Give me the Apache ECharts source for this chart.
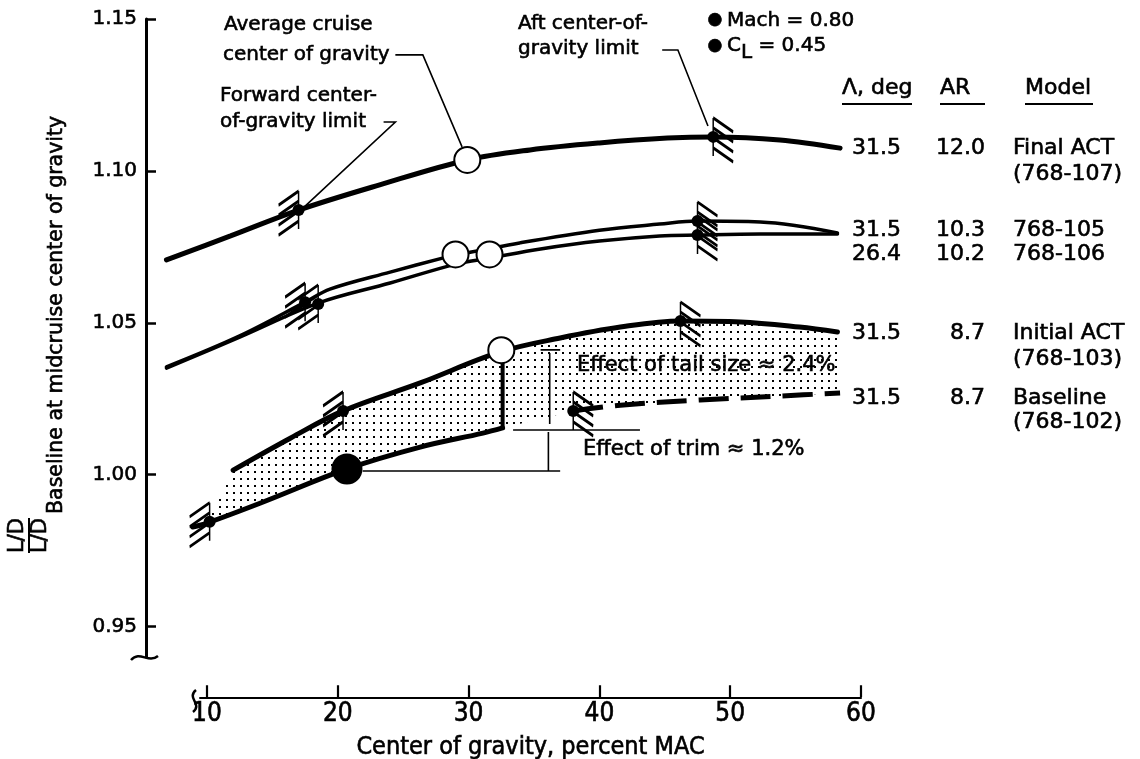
<!DOCTYPE html>
<html><head><meta charset="utf-8">
<script src="https://cdn.jsdelivr.net/npm/echarts@6/dist/echarts.min.js"></script>
<style>html,body{margin:0;padding:0;background:#fff}#c{width:1140px;height:759px}</style>
</head><body><div id="c"></div>
<script>
// ---- data (x = c.g. percent MAC, y = L/D ratio) ----
const xTicks = [10, 20, 30, 40, 50, 60];
const yTicks = [0.95, 1.00, 1.05, 1.10, 1.15];
const finalACT = [[6.9,1.0707],[11.8,1.0786],[17.0,1.0871],[23.2,1.0954],[29.9,1.1036],[34.7,1.1069],[40.0,1.1092],[45.2,1.1108],[48.7,1.1112],[53.8,1.1102],[58.4,1.1075]];
const model105 = [[6.9,1.0355],[12.5,1.0457],[17.5,1.0568],[19.4,1.0611],[24.0,1.0667],[28.0,1.0713],[29.0,1.0723],[33.9,1.0763],[40.0,1.0805],[44.6,1.0825],[47.5,1.0835],[52.3,1.0832],[58.2,1.0796]];
const model106 = [[6.9,1.0351],[12.5,1.0453],[18.5,1.0565],[24.0,1.0631],[29.1,1.0694],[31.6,1.0713],[35.5,1.0743],[40.0,1.0769],[44.6,1.0786],[47.5,1.0789],[52.3,1.0792],[58.2,1.0792]];
const initialACT = [[12.0,1.0015],[16.4,1.0121],[20.4,1.0210],[26.3,1.0302],[32.4,1.0404],[37.0,1.0450],[41.6,1.0486],[46.2,1.0506],[50.8,1.0503],[55.3,1.0486],[58.2,1.0470]];
const baselineSolid = [[8.9,0.9828],[10.0,0.9841],[14.1,0.9907],[20.7,1.0019],[26.3,1.0091],[31.1,1.0137],[32.6,1.0154]];
const baselineDashed = [[38.0,1.0210],[41.6,1.0229],[47.7,1.0246],[53.8,1.0259],[58.4,1.0269]];
const avgCruise = [[29.9,1.1036],[29.0,1.0725],[31.6,1.0725],[32.5,1.0410]];
const baselineAvg = [[20.7,1.0019]];
const fwdLimit = [[17.0,1.0871],[17.5,1.0568],[18.5,1.0562],[20.4,1.0210],[10.2,0.9845]];
const aftLimit = [[48.7,1.1112],[47.5,1.0835],[47.5,1.0789],[46.2,1.0506],[38.0,1.0210]];
// annotation leaders (data coords)
const leaderAvg = [[24.4,1.1382],[26.5,1.1382],[29.5,1.1079]];
const leaderFwd = [[23.5,1.1161],[24.4,1.1161],[17.5,1.0884]];
const leaderAft = [[44.8,1.1398],[46.0,1.1398],[48.3,1.1148]];
const tailDim = [[36.2,1.0401],[36.2,1.0167]];
const tailTop = [[35.5,1.0411],[37.0,1.0411]];
const trimTop = [[33.4,1.0147],[43.1,1.0147]];
const trimDim = [[36.1,1.0141],[36.1,1.0012]];
const trimBottom = [[21.9,1.0012],[37.0,1.0012]];
const tailRise = [[32.6,1.0154],[32.6,1.0372]];

const F = 'DejaVu Sans';
const NARROW = '"Liberation Sans Narrow","DejaVu Sans Condensed",sans-serif';
const W = 0.6; // slight text stroke to mimic the heavy printed type

// dot pattern for shaded band
const pc = document.createElement('canvas');
pc.width = 7; pc.height = 7;
const pctx = pc.getContext('2d');
pctx.fillStyle = '#000';
pctx.fillRect(2, 2, 2, 2);
const dotPattern = { image: pc, repeat: 'repeat' };

const fwdHatch = 'path://M20,0 L20,38 M20,0 L0,14 M20,10 L0,24 M20,20 L0,34 M20,30 L0,44';
const aftHatch = 'path://M0,0 L0,38 M0,0 L20,14 M0,10 L20,24 M0,20 L20,34 M0,30 L20,44';

function curve(data, w, dash) {
  return { type: 'line', data: data, showSymbol: false, smooth: 0.35, silent: true,
    lineStyle: { color: '#000', width: w, type: dash || 'solid', cap: dash ? 'butt' : 'round', opacity: 1 }, z: 3 };
}
function leader(list, sym, w) {
  return { type: 'lines', coordinateSystem: 'cartesian2d', polyline: true, silent: true,
    symbol: sym, symbolSize: 9, z: 4,
    lineStyle: { color: '#000', width: w || 1.6, opacity: 1 },
    data: list.map(c => ({ coords: c })) };
}

function txt(t, x, y, size, align, extra) {
  return Object.assign({ type: 'text', x: x, y: y, silent: true,
    style: { text: t, fill: '#000', stroke: '#000', lineWidth: W, font: (size || 20) + 'px "' + F + '"', align: align || 'left', verticalAlign: 'middle' } }, extra || {});
}
function hline(x1, x2, y, w) {
  return { type: 'line', silent: true, shape: { x1: x1, y1: y, x2: x2, y2: y }, style: { stroke: '#000', lineWidth: w || 1.5 } };
}

const graphics = [
  txt('Average cruise', 224, 25), txt('center of gravity', 223, 55),
  txt('Forward center-', 220, 96), txt('of-gravity limit', 220, 122),
  txt('Aft center-of-', 518, 24), txt('gravity limit', 518, 49),
  txt('●', 715, 20, 17, 'center'), txt('Mach = 0.80', 727, 21, 20),
  txt('●', 715, 46, 17, 'center'),
  { type: 'text', x: 727, y: 46, silent: true, style: { text: 'C{s|L} = 0.45', fill: '#000', stroke: '#000', lineWidth: W, font: '20px "' + F + '"', verticalAlign: 'middle',
      rich: { s: { fontSize: 20, fontFamily: F, verticalAlign: 'top', padding: [14, 0, 0, 0] } } } },
  txt('Λ, deg', 842, 88, 22), hline(842, 912, 104, 2),
  txt('AR', 940, 88, 22), hline(940, 985, 104, 2),
  txt('Model', 1025, 88, 22), hline(1025, 1093, 104, 2),
  txt('31.5', 852, 148, 22), txt('12.0', 985, 148, 22, 'right'), txt('Final ACT', 1013, 148, 22), txt('(768-107)', 1013, 174, 22),
  txt('31.5', 852, 230, 22), txt('10.3', 985, 230, 22, 'right'), txt('768-105', 1013, 230, 22),
  txt('26.4', 852, 254, 22), txt('10.2', 985, 254, 22, 'right'), txt('768-106', 1013, 254, 22),
  txt('31.5', 852, 333, 22), txt('8.7', 985, 333, 22, 'right'), txt('Initial ACT', 1013, 333, 22), txt('(768-103)', 1013, 359, 22),
  txt('31.5', 852, 398, 22), txt('8.7', 985, 398, 22, 'right'), txt('Baseline', 1013, 398, 22), txt('(768-102)', 1013, 422, 22),
  txt('Effect of tail size ≈ 2.4%', 577, 366, 21),
  txt('Effect of trim ≈ 1.2%', 583, 450, 21),
  // y axis title (rotated)
  { type: 'group', x: 0, y: 553, rotation: Math.PI / 2, silent: true, children: [
      txt('L/D', 0, 18, 21),
      { type: 'line', shape: { x1: 0, y1: 29, x2: 35, y2: 29 }, style: { stroke: '#000', lineWidth: 2 } },
      txt('L/D', 0, 41, 21),
      txt('Baseline at midcruise center of gravity', 39, 57, 20.5)
  ] },
  // axis break marks
  { type: 'bezierCurve', silent: true, shape: { x1: 131, y1: 660, x2: 158, y2: 656, cpx1: 140, cpy1: 650, cpx2: 148, cpy2: 664 }, style: { stroke: '#000', lineWidth: 2.5, fill: 'none' } },
  { type: 'bezierCurve', silent: true, shape: { x1: 196, y1: 690, x2: 193, y2: 712, cpx1: 186, cpy1: 698, cpx2: 203, cpy2: 704 }, style: { stroke: '#000', lineWidth: 2.5, fill: 'none' } }
];

const chart = echarts.init(document.getElementById('c'), null, { renderer: 'canvas' });
chart.setOption({
  animation: false,
  backgroundColor: '#fff',
  textStyle: { fontFamily: F, color: '#000' },
  grid: [
    { left: 146, right: 279, top: 19, bottom: 102, containLabel: false },
    { left: 200, right: 279, top: 697, height: 1, containLabel: false }
  ],
  xAxis: [
    { type: 'value', gridIndex: 0, min: 5.336, max: 60, show: false },
    { type: 'value', gridIndex: 1, min: 9.465, max: 60, position: 'bottom',
      axisLine: { show: true, lineStyle: { color: '#000', width: 2 } },
      axisTick: { show: true, inside: true, length: 12, lineStyle: { color: '#000', width: 2.2 }, customValues: xTicks },
      axisLabel: { show: true, customValues: xTicks, color: '#000', fontFamily: NARROW, fontSize: 26, margin: 4,
        textBorderColor: '#000', textBorderWidth: W },
      splitLine: { show: false },
      name: 'Center of gravity, percent MAC', nameLocation: 'middle', nameGap: 38,
      nameTextStyle: { fontFamily: NARROW, fontSize: 25, color: '#000', textBorderColor: '#000', textBorderWidth: W } }
  ],
  yAxis: [
    { type: 'value', gridIndex: 0, min: 0.94, max: 1.15,
      axisLine: { show: true, lineStyle: { color: '#000', width: 3 } },
      axisTick: { show: true, inside: true, length: 10, lineStyle: { color: '#000', width: 2.5 }, customValues: yTicks },
      axisLabel: { show: true, customValues: yTicks, color: '#000', fontFamily: F, fontSize: 20, margin: 9,
        textBorderColor: '#000', textBorderWidth: W, formatter: v => v.toFixed(2) },
      splitLine: { show: false } },
    { type: 'value', gridIndex: 1, min: 0, max: 1, show: false }
  ],
  graphic: graphics,
  series: [
    { type: 'custom', silent: true, z: 1, data: [[0, 0]],
      renderItem: function (params, api) {
        const pts = initialACT.map(p => api.coord(p))
          .concat(baselineDashed.slice().reverse().map(p => api.coord(p)))
          .concat(baselineSolid.filter(p => p[0] >= 10).reverse().map(p => api.coord(p)));
        return { type: 'polygon', shape: { points: pts }, style: { fill: dotPattern, stroke: 'none' } };
      } },
    curve(finalACT, 5),
    curve(model105, 3.5),
    curve(model106, 3.5),
    curve(initialACT, 5),
    curve(baselineSolid, 5),
    curve(baselineDashed, 5, [30, 12]),
    leader([leaderAvg, leaderFwd, leaderAft], ['none', 'arrow'], 1.6),
    leader([tailDim, trimDim], ['arrow', 'arrow'], 1.6),
    leader([tailTop, trimTop, trimBottom], ['none', 'none'], 1.6),
    leader([tailRise], ['none', 'arrow'], 4),
    { type: 'scatter', data: fwdLimit, symbol: fwdHatch, symbolSize: [20, 44], symbolOffset: [-10, 3], silent: true, z: 5,
      itemStyle: { color: 'rgba(0,0,0,0)', borderColor: '#000', borderWidth: 2.2, opacity: 1 } },
    { type: 'scatter', data: aftLimit, symbol: aftHatch, symbolSize: [20, 44], symbolOffset: [10, 3], silent: true, z: 5,
      itemStyle: { color: 'rgba(0,0,0,0)', borderColor: '#000', borderWidth: 2.2, opacity: 1 } },
    { type: 'scatter', data: fwdLimit.concat(aftLimit), symbol: 'circle', symbolSize: 12, silent: true, z: 6,
      itemStyle: { color: '#000', opacity: 1 } },
    { type: 'scatter', data: baselineAvg, symbol: 'circle', symbolSize: 31, silent: true, z: 6,
      itemStyle: { color: '#000', opacity: 1 } },
    { type: 'scatter', data: avgCruise, symbol: 'circle', symbolSize: 26, silent: true, z: 7,
      itemStyle: { color: '#fff', borderColor: '#000', borderWidth: 2, opacity: 1 } }
  ]
});
</script></body></html>
